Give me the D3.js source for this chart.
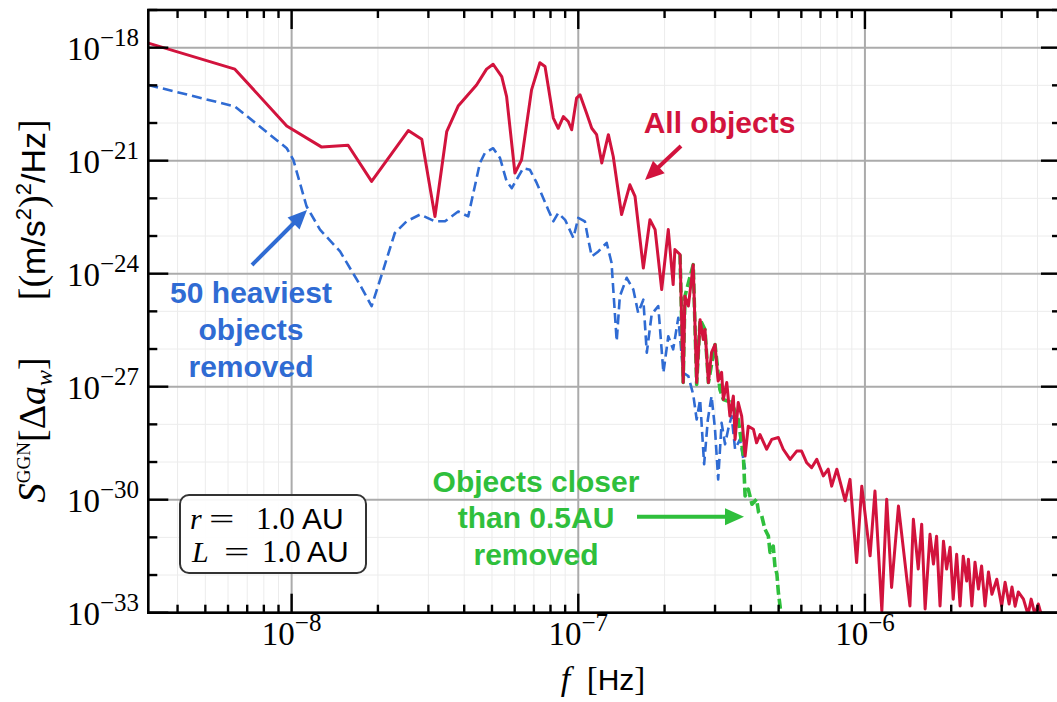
<!DOCTYPE html>
<html><head><meta charset="utf-8">
<script src="https://cdn.jsdelivr.net/npm/d3@7"></script>
<style>body{margin:0;background:#fff;} svg{display:block;}</style>
</head><body>
<svg id="chart" width="1057" height="702"></svg>
<script>
// ---------- data (log10 of frequency [Hz] and log10 of PSD) ----------
const allLogF = [-8.500,-8.198,-8.017,-7.895,-7.803,-7.721,-7.593,-7.546,-7.500,-7.459,-7.419,-7.355,-7.320,-7.297,-7.267,-7.250,-7.221,-7.198,-7.163,-7.134,-7.116,-7.087,-7.070,-7.052,-7.035,-7.023,-7.006,-6.994,-6.971,-6.953,-6.936,-6.918,-6.895,-6.878,-6.849,-6.820,-6.802,-6.773,-6.750,-6.732,-6.709,-6.686,-6.669,-6.663,-6.645,-6.634,-6.628,-6.616,-6.599,-6.587,-6.575,-6.564,-6.558,-6.546,-6.535,-6.523,-6.512,-6.500,-6.494,-6.482,-6.471,-6.459,-6.453,-6.442,-6.430,-6.418,-6.407,-6.389,-6.378,-6.366,-6.343,-6.325,-6.302,-6.285,-6.261,-6.238,-6.221,-6.203,-6.186,-6.168,-6.145,-6.128,-6.116,-6.098,-6.069,-6.052,-6.029,-6.011,-5.982,-5.965,-5.941,-5.924,-5.907,-5.883,-5.843,-5.831,-5.814,-5.802,-5.790,-5.773,-5.761,-5.750,-5.738,-5.726,-5.715,-5.703,-5.692,-5.680,-5.668,-5.657,-5.645,-5.639,-5.627,-5.616,-5.604,-5.593,-5.581,-5.569,-5.557,-5.540,-5.523,-5.511,-5.497,-5.487,-5.476,-5.465,-5.447,-5.431,-5.420,-5.407,-5.395,-5.383];
const allLogS = [-17.88,-18.57,-20.08,-20.64,-20.59,-21.55,-20.20,-20.43,-22.48,-20.23,-19.55,-18.99,-18.57,-18.44,-18.77,-19.30,-21.33,-20.98,-19.12,-18.40,-18.50,-19.87,-20.14,-19.83,-19.96,-20.18,-19.34,-19.25,-19.74,-20.14,-20.31,-21.06,-20.31,-20.89,-22.43,-21.64,-21.95,-23.85,-22.57,-22.83,-24.42,-22.83,-24.29,-23.36,-23.49,-26.89,-24.60,-24.86,-23.76,-26.89,-25.22,-25.75,-25.48,-26.89,-26.09,-25.88,-26.85,-26.62,-27.34,-26.89,-27.78,-27.25,-28.40,-27.42,-27.78,-28.84,-28.05,-28.13,-28.49,-28.27,-28.66,-28.40,-28.35,-28.66,-28.93,-28.71,-28.71,-29.02,-29.15,-28.93,-29.37,-29.19,-29.64,-29.19,-30.03,-29.46,-31.67,-29.64,-31.49,-29.77,-32.95,-29.99,-32.33,-30.17,-32.82,-30.52,-31.84,-30.65,-32.90,-30.92,-31.71,-30.97,-32.82,-31.10,-31.84,-31.26,-32.64,-31.45,-32.82,-31.50,-32.16,-31.58,-32.82,-31.66,-32.37,-31.76,-32.82,-31.92,-32.51,-32.11,-32.82,-32.19,-32.77,-32.32,-32.83,-32.45,-32.64,-33.05,-32.64,-33.05,-32.77,-33.10];

const heavyLogF = [-8.500,-8.198,-8.017,-7.994,-7.948,-7.901,-7.831,-7.762,-7.721,-7.680,-7.640,-7.599,-7.552,-7.500,-7.465,-7.419,-7.384,-7.343,-7.326,-7.297,-7.273,-7.250,-7.232,-7.209,-7.192,-7.169,-7.145,-7.105,-7.087,-7.070,-7.046,-7.017,-7.000,-6.977,-6.965,-6.953,-6.930,-6.901,-6.884,-6.866,-6.855,-6.831,-6.808,-6.791,-6.773,-6.761,-6.744,-6.721,-6.703,-6.686,-6.669,-6.651,-6.634,-6.616,-6.599,-6.587,-6.575,-6.561,-6.548,-6.535,-6.523,-6.512,-6.500,-6.488,-6.477,-6.465,-6.453,-6.436,-6.418];
const heavyLogS = [-18.99,-19.56,-20.67,-20.98,-22.21,-22.83,-23.41,-24.29,-24.86,-23.89,-22.92,-22.61,-22.43,-22.61,-22.61,-22.35,-22.48,-21.06,-20.80,-20.67,-20.93,-21.55,-21.73,-21.42,-21.20,-21.24,-21.59,-22.30,-22.61,-22.39,-22.57,-23.05,-22.52,-22.61,-23.10,-23.54,-23.41,-23.18,-23.71,-25.79,-24.60,-24.11,-24.42,-25.04,-24.69,-26.10,-25.08,-24.86,-26.63,-25.66,-26.01,-25.17,-26.63,-26.72,-27.21,-27.87,-27.34,-29.06,-27.87,-27.25,-28.13,-29.46,-27.96,-28.53,-28.13,-27.78,-28.66,-28.40,-29.19];

const closeLogF = [-6.645,-6.634,-6.628,-6.599,-6.587,-6.575,-6.558,-6.546,-6.523,-6.506,-6.494,-6.465,-6.442,-6.432,-6.424,-6.418,-6.407,-6.394,-6.378,-6.371,-6.360,-6.349,-6.337,-6.331,-6.320,-6.314,-6.307,-6.302,-6.290];
const closeLogS = [-23.49,-26.89,-24.60,-23.76,-26.94,-25.22,-25.48,-26.89,-25.88,-27.07,-27.34,-27.42,-27.87,-28.40,-28.84,-29.90,-29.72,-30.12,-29.99,-30.33,-30.43,-30.78,-30.96,-31.40,-31.23,-31.76,-31.98,-32.46,-33.20];

const xMajorExps = [-8, -7, -6];
const yMajorExps = [-18, -21, -24, -27, -30, -33];
const xDomain = [Math.pow(10, -8.5), Math.pow(10, -5.316)];
const yDomain = [1e-33, 1e-17];

const seriesLabels = {
  all: "All objects",
  heavy: ["50 heaviest", "objects", "removed"],
  close: ["Objects closer", "than 0.5AU", "removed"]
};
const boxLines = [["r", "1.0"], ["L", "1.0"]];

// ---------- setup ----------
const RED = "#d2133d", BLUE = "#2f6bd3", GREEN = "#2fbf3c";
const SERIF = "'Liberation Serif', 'DejaVu Serif', serif";
const SANS = "'Liberation Sans', Arial, sans-serif";

const svg = d3.select("#chart");
const L = 148.3, T = 10, R = 1061, B = 612.7;

const x = d3.scaleLog().domain(xDomain).range([L, R]);
const y = d3.scaleLog().domain(yDomain).range([B, T]);

const toPts = (lf, ls) => lf.map((v, i) => ({ f: Math.pow(10, v), s: Math.pow(10, ls[i]) }));
const allData = toPts(allLogF, allLogS);
const heavyData = toPts(heavyLogF, heavyLogS);
const closeData = toPts(closeLogF, closeLogS);

svg.append("defs").append("clipPath").attr("id", "clip")
  .append("rect").attr("x", L).attr("y", T).attr("width", R - L).attr("height", B - T);

// ---------- grid ----------
const grid = svg.append("g");
const xMinor = [];
for (let e = -9; e <= -6; e++) for (let m = 2; m <= 9; m++) {
  const v = m * Math.pow(10, e);
  if (v > xDomain[0] && v < xDomain[1]) xMinor.push(v);
}
const yAllDec = d3.range(-33, -16).map(e => Math.pow(10, e));
const yMajorVals = yMajorExps.map(e => Math.pow(10, e));
const yMinorVals = yAllDec.filter(v => !yMajorExps.includes(Math.round(Math.log10(v))));
const xMajorVals = xMajorExps.map(e => Math.pow(10, e));

grid.selectAll(".xmg").data(xMinor).enter().append("line")
  .attr("x1", d => x(d)).attr("x2", d => x(d)).attr("y1", T).attr("y2", B)
  .attr("stroke", "#ececec").attr("stroke-width", 1);
grid.selectAll(".ymg").data(yMinorVals).enter().append("line")
  .attr("x1", L).attr("x2", R).attr("y1", d => y(d)).attr("y2", d => y(d))
  .attr("stroke", "#ececec").attr("stroke-width", 1);
grid.selectAll(".xMg").data(xMajorVals).enter().append("line")
  .attr("x1", d => x(d)).attr("x2", d => x(d)).attr("y1", T).attr("y2", B)
  .attr("stroke", "#ababab").attr("stroke-width", 2);
grid.selectAll(".yMg").data(yMajorVals).enter().append("line")
  .attr("x1", L).attr("x2", R).attr("y1", d => y(d)).attr("y2", d => y(d))
  .attr("stroke", "#ababab").attr("stroke-width", 2);

// ---------- curves ----------
const line = d3.line().x(d => x(d.f)).y(d => y(d.s));
const curves = svg.append("g").attr("clip-path", "url(#clip)");
curves.append("path").datum(heavyData).attr("d", line).attr("fill", "none")
  .attr("stroke", BLUE).attr("stroke-width", 2.6).attr("stroke-dasharray", "10,5")
  .attr("stroke-linejoin", "round");
curves.append("path").datum(closeData).attr("d", line).attr("fill", "none")
  .attr("stroke", GREEN).attr("stroke-width", 3.6).attr("stroke-dasharray", "10,4")
  .attr("stroke-linejoin", "round");
curves.append("path").datum(allData).attr("d", line).attr("fill", "none")
  .attr("stroke", RED).attr("stroke-width", 3).attr("stroke-linejoin", "round");

// ---------- axes frame & ticks ----------
const frame = svg.append("g");
frame.append("rect").attr("x", L).attr("y", T).attr("width", R - L).attr("height", B - T)
  .attr("fill", "none").attr("stroke", "#000").attr("stroke-width", 2.6);

const tk = (x1, y1, x2, y2) => frame.append("line").attr("x1", x1).attr("y1", y1)
  .attr("x2", x2).attr("y2", y2).attr("stroke", "#000").attr("stroke-width", 2.4);
xMajorVals.forEach(v => { tk(x(v), B, x(v), B - 19); tk(x(v), T, x(v), T + 19); });
xMinor.forEach(v => { tk(x(v), B, x(v), B - 8); tk(x(v), T, x(v), T + 8); });
yMajorVals.forEach(v => { tk(L, y(v), L + 20, y(v)); tk(R, y(v), R - 20, y(v)); });
yMinorVals.forEach(v => { tk(L, y(v), L + 9, y(v)); tk(R, y(v), R - 9, y(v)); });

// tick labels
const labels = svg.append("g").attr("font-family", SERIF).attr("fill", "#000");
xMajorExps.forEach(e => {
  const t = labels.append("text").attr("x", x(Math.pow(10, e))).attr("y", 645)
    .attr("text-anchor", "middle").attr("font-size", 33);
  t.append("tspan").text("10");
  t.append("tspan").attr("dy", -14).attr("font-size", 25).text("\u2212" + Math.abs(e));
});
yMajorExps.forEach(e => {
  const t = labels.append("text").attr("x", 139).attr("y", y(Math.pow(10, e)) + 12.3)
    .attr("text-anchor", "end").attr("font-size", 33);
  t.append("tspan").text("10");
  t.append("tspan").attr("dy", -14).attr("font-size", 25).text("\u2212" + Math.abs(e));
});

// axis titles
const xt = svg.append("text").attr("x", 603).attr("y", 690).attr("text-anchor", "middle");
xt.append("tspan").attr("font-family", SERIF).attr("font-style", "italic").attr("font-size", 34).text("f");
xt.append("tspan").attr("font-family", SERIF).attr("font-size", 33).text("\u2002[");
xt.append("tspan").attr("font-family", SANS).attr("font-size", 30).text("Hz");
xt.append("tspan").attr("font-family", SERIF).attr("font-size", 33).text("]");

const yt = svg.append("text").attr("transform", "translate(45,311) rotate(-90)").attr("text-anchor", "middle");
yt.append("tspan").attr("font-family", SERIF).attr("font-style", "italic").attr("font-size", 39).text("S");
yt.append("tspan").attr("font-family", SERIF).attr("font-size", 19).attr("dy", -15).text("GGN");
yt.append("tspan").attr("font-family", SERIF).attr("font-size", 38).attr("dy", 15).text("[\u0394");
yt.append("tspan").attr("font-family", SERIF).attr("font-style", "italic").attr("font-size", 38).text("a");
yt.append("tspan").attr("font-family", SERIF).attr("font-style", "italic").attr("font-size", 24).attr("dy", 7).text("w");
yt.append("tspan").attr("font-family", SERIF).attr("font-size", 38).attr("dy", -7).text("]\u2003\u2002[(");
yt.append("tspan").attr("font-family", SANS).attr("font-size", 34).text("m/s");
yt.append("tspan").attr("font-family", SANS).attr("font-size", 22).attr("dy", -14).text("2");
yt.append("tspan").attr("font-family", SERIF).attr("font-size", 38).attr("dy", 14).text(")");
yt.append("tspan").attr("font-family", SANS).attr("font-size", 22).attr("dy", -14).text("2");
yt.append("tspan").attr("font-family", SANS).attr("font-size", 34).attr("dy", 14).text("/Hz");
yt.append("tspan").attr("font-family", SERIF).attr("font-size", 38).text("]");

// ---------- parameter box ----------
svg.append("rect").attr("x", 180).attr("y", 495).attr("width", 186).attr("height", 78)
  .attr("rx", 9).attr("fill", "#fff").attr("fill-opacity", 0.92)
  .attr("stroke", "#333").attr("stroke-width", 2);
const boxPos = [{ y: 529, v: 190, eq: 209, n: 256, u: 302 }, { y: 562, v: 192, eq: 224, n: 262, u: 307 }];
boxLines.forEach((bl, i) => {
  const p = boxPos[i];
  svg.append("text").attr("x", p.v).attr("y", p.y).attr("font-family", SERIF)
    .attr("font-style", "italic").attr("font-size", 30).text(bl[0]);
  svg.append("text").attr("x", 0).attr("y", p.y).attr("font-family", SERIF)
    .attr("font-size", 30).attr("transform", `translate(${p.eq},0) scale(1.5,1)`).text("=");
  svg.append("text").attr("x", p.n).attr("y", p.y).attr("font-family", SERIF)
    .attr("font-size", 31).text(bl[1]);
  svg.append("text").attr("x", p.u).attr("y", p.y).attr("font-family", SANS)
    .attr("font-size", 30).text("AU");
});

// ---------- annotations ----------
function arrow(x1, y1, x2, y2, color, w, hl, hw) {
  const a = Math.atan2(y2 - y1, x2 - x1);
  const bx = x2 - hl * Math.cos(a), by = y2 - hl * Math.sin(a);
  svg.append("line").attr("x1", x1).attr("y1", y1).attr("x2", bx + 2 * Math.cos(a)).attr("y2", by + 2 * Math.sin(a))
    .attr("stroke", color).attr("stroke-width", w);
  const px = -Math.sin(a) * hw / 2, py = Math.cos(a) * hw / 2;
  svg.append("polygon").attr("points", `${x2},${y2} ${bx + px},${by + py} ${bx - px},${by - py}`)
    .attr("fill", color);
}
const ann = svg.append("g").attr("font-family", SANS).attr("font-weight", "bold")
  .attr("font-size", 30).attr("text-anchor", "middle");
ann.append("text").attr("x", 719.5).attr("y", 133).attr("fill", RED).text(seriesLabels.all);
arrow(681, 146, 645, 180, RED, 4, 19, 17);

seriesLabels.heavy.forEach((s, i) => ann.append("text").attr("x", 251).attr("y", 302.7 + i * 37)
  .attr("fill", BLUE).text(s));
arrow(252, 265, 307, 210, BLUE, 4, 19, 17);

seriesLabels.close.forEach((s, i) => ann.append("text").attr("x", 536).attr("y", 491.7 + i * 36.7)
  .attr("fill", GREEN).text(s));
arrow(637, 516.7, 744, 516.7, GREEN, 4, 19, 17);
</script>
</body></html>
